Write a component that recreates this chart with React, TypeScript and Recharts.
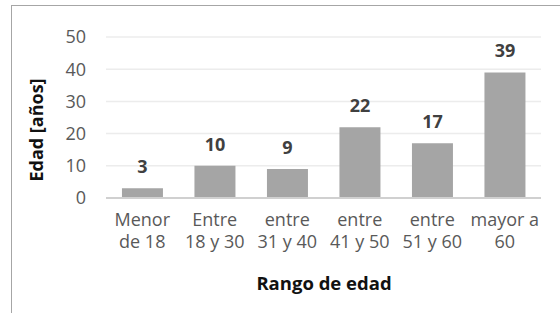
import { BarChart, Bar, XAxis, YAxis, CartesianGrid, LabelList, Label } from "recharts";

const categories = ["Menor de 18", "Entre 18 y 30", "entre 31 y 40", "entre 41 y 50", "entre 51 y 60", "mayor a 60"];
const tickLines = [
  ["Menor", "de 18"],
  ["Entre", "18 y 30"],
  ["entre", "31 y 40"],
  ["entre", "41 y 50"],
  ["entre", "51 y 60"],
  ["mayor a", "60"]
];
const values = [3, 10, 9, 22, 17, 39];
const yTicks = [0, 10, 20, 30, 40, 50];

const data = categories.map((c, i) => ({ name: c, value: values[i] }));

const FONT = "'Open Sans', sans-serif";

function CategoryTick(props: any) {
  const { x, y, index } = props;
  const lines = tickLines[index] || [];
  return (
    <g>
      {lines.map((t, i) => (
        <text key={i} x={x} y={y + 20 + i * 22} textAnchor="middle" fill="#595959" fontSize={18} fontFamily={FONT}>
          {t}
        </text>
      ))}
    </g>
  );
}

export default function App() {
  return (
    <div style={{ position: "fixed", left: 0, top: 0, width: 560, height: 313, background: "#fff" }}>
      <div
        style={{
          position: "absolute",
          left: 11,
          top: 5,
          right: 0,
          bottom: 0,
          borderLeft: "1px solid #a6a6a6",
          borderTop: "1px solid #a6a6a6"
        }}
      />
      <BarChart
        width={560}
        height={313}
        data={data}
        margin={{ top: 37, right: 19, bottom: 38, left: 0 }}
        barCategoryGap="22%"
        style={{ fontFamily: FONT }}
      >
        <CartesianGrid vertical={false} stroke="#ececec" strokeWidth={1.5} />
        <XAxis
          dataKey="name"
          tick={<CategoryTick />}
          tickLine={false}
          axisLine={{ stroke: "#d0d0d0", strokeWidth: 2 }}
          height={77}
          interval={0}
        >
          <Label
            content={() => (
              <text x={324} y={290} textAnchor="middle" fontWeight="bold" fontSize={18.5} fill="#111" fontFamily={FONT}>
                Rango de edad
              </text>
            )}
          />
        </XAxis>
        <YAxis
          domain={[0, 50]}
          ticks={yTicks}
          width={106}
          tickSize={0}
          tickMargin={20}
          axisLine={false}
          tickLine={false}
          tick={{ fill: "#595959", fontSize: 18, fontFamily: FONT }}
        >
          <Label
            content={() => (
              <text
                x={43}
                y={130}
                transform="rotate(-90 43 130)"
                textAnchor="middle"
                fontWeight="bold"
                fontSize={18}
                fill="#111"
                fontFamily={FONT}
              >
                Edad [años]
              </text>
            )}
          />
        </YAxis>
        <Bar dataKey="value" fill="#a5a5a5" isAnimationActive={false}>
          <LabelList dataKey="value" position="top" offset={15} fill="#404040" fontWeight="bold" fontSize={18} fontFamily={FONT} />
        </Bar>
      </BarChart>
    </div>
  );
}
